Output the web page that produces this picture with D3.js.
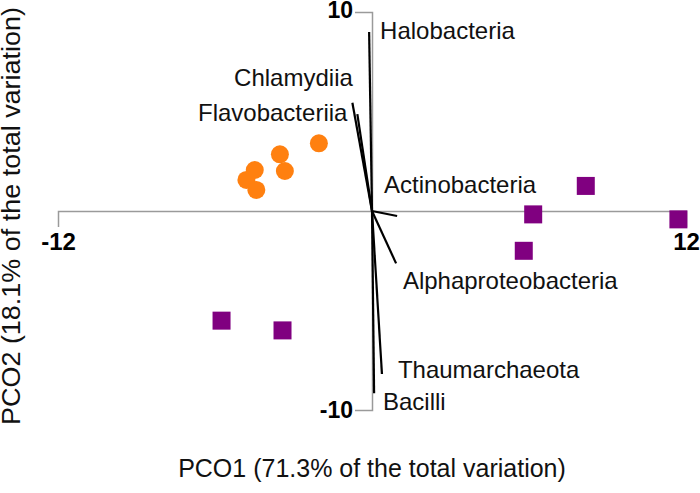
<!DOCTYPE html>
<html>
<head>
<meta charset="utf-8">
<script src="https://cdn.jsdelivr.net/npm/d3@7/dist/d3.min.js"></script>
<style>
  body { margin: 0; background: #fff; }
  svg text { font-family: "Liberation Sans", Arial, Helvetica, sans-serif; }
</style>
</head>
<body>
<div id="chart"></div>
<script>
// orange group (circles)
var circX = [-2.03, -3.52, -3.33, -4.48, -4.80, -4.42];
var circY = [ 3.40,  2.85,  2.01,  2.06,  1.56,  1.06];
// purple group (squares)
var sqX = [8.17, 6.16, 11.71, 5.80, -5.75, -3.42];
var sqY = [1.26, -0.17, -0.42, -2.00, -5.51, -6.00];

// vector overlay
var vecNames = ["Halobacteria", "Chlamydiia", "Flavobacteriia", "Actinobacteria",
                "Alphaproteobacteria", "Thaumarchaeota", "Bacilli"];
var vecX = [-0.11, -0.75, -0.56, 0.96, 0.92, 0.38, 0.08];
var vecY = [ 9.00,  5.44,  4.87, -0.25, -2.63, -8.19, -9.16];

var xTicks = [-12, 12];
var yTicks = [-10, 10];
var xTitle = "PCO1 (71.3% of the total variation)";
var yTitle = "PCO2 (18.1% of the total variation)";

var W = 700, H = 493;
var svg = d3.select("#chart").append("svg")
    .attr("width", W)
    .attr("height", H);

var x = d3.scaleLinear().domain([-12, 12]).range([58, 686]);
var y = d3.scaleLinear().domain([-10, 10]).range([410, 12]);

// label anchors (data units) for the vector names
var labAt = [[0.31, 8.64], [-5.27, 6.28], [-6.65, 4.52], [0.46, 0.90],
             [1.18, -3.92], [0.99, -8.39], [0.42, -10.0]];

var tickFmt = function(d) { return String(d); };  // plain hyphen minus

// horizontal axis through y=0
var gx = svg.append("g")
    .attr("transform", "translate(0," + y(0) + ")")
    .call(d3.axisBottom(x).tickValues(xTicks).tickSize(0).tickSizeOuter(16).tickPadding(22)
        .tickFormat(tickFmt));
gx.select(".domain").attr("stroke", "#9a9a9a").attr("stroke-width", 1.5);
gx.selectAll("text")
    .attr("font-size", 24).attr("font-weight", "bold").attr("fill", "#000")
    .attr("font-family", "Liberation Sans, Arial, sans-serif");

// vertical axis through x=0
var gy = svg.append("g")
    .attr("transform", "translate(" + x(0) + ",0)")
    .call(d3.axisLeft(y).tickValues(yTicks).tickSize(0).tickSizeOuter(17).tickPadding(19)
        .tickFormat(tickFmt));
gy.select(".domain").attr("stroke", "#9a9a9a").attr("stroke-width", 1.5);
gy.selectAll("text")
    .attr("font-size", 23).attr("font-weight", "bold").attr("fill", "#000")
    .attr("font-family", "Liberation Sans, Arial, sans-serif");
gy.selectAll(".tick").filter(function(d) { return d == 10; })
    .select("text").attr("dy", "0.25em");

// vectors
svg.append("g").selectAll("line")
    .data(vecNames).enter().append("line")
    .attr("x1", x(0)).attr("y1", y(0))
    .attr("x2", function(d, i) { return x(vecX[i]); })
    .attr("y2", function(d, i) { return y(vecY[i]); })
    .attr("stroke", "#000")
    .attr("stroke-width", 2.2);

svg.append("g").selectAll("text")
    .data(vecNames).enter().append("text")
    .attr("x", function(d, i) { return x(labAt[i][0]); })
    .attr("y", function(d, i) { return y(labAt[i][1]); })
    .attr("font-size", 24)
    .attr("fill", "#111")
    .text(function(d) { return d; });

// points
svg.append("g").selectAll("circle")
    .data(circX).enter().append("circle")
    .attr("cx", function(d) { return x(d); })
    .attr("cy", function(d, i) { return y(circY[i]); })
    .attr("r", 9)
    .attr("fill", "#ff8010");

var s = 18;
svg.append("g").selectAll("rect")
    .data(sqX).enter().append("rect")
    .attr("x", function(d) { return x(d) - s / 2; })
    .attr("y", function(d, i) { return y(sqY[i]) - s / 2; })
    .attr("width", s).attr("height", s)
    .attr("fill", "#800080");

// axis titles
svg.append("text")
    .attr("x", x(0)).attr("y", 477)
    .attr("text-anchor", "middle")
    .attr("font-size", 25)
    .attr("fill", "#111")
    .text(xTitle);

svg.append("text")
    .attr("transform", "translate(20," + 216 + ") rotate(-90)")
    .attr("text-anchor", "middle")
    .attr("font-size", 25)
    .attr("textLength", 418)
    .attr("lengthAdjust", "spacingAndGlyphs")
    .attr("fill", "#111")
    .text(yTitle);
</script>
</body>
</html>
